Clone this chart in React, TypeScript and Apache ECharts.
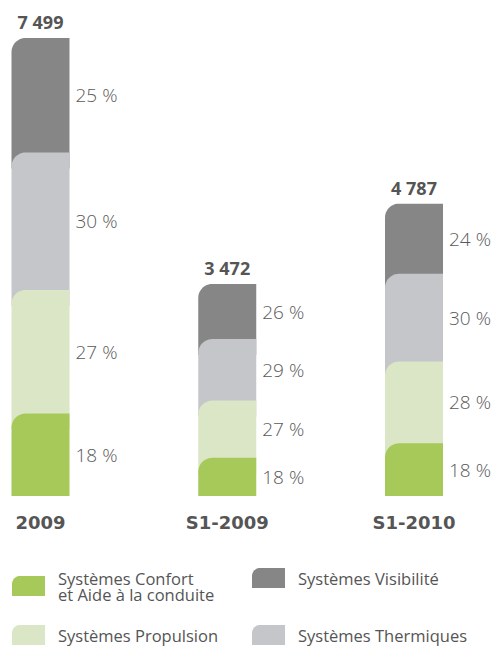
import React, { useEffect, useRef } from "react";
import * as echarts from "echarts";

const categories = ["2009", "S1-2009", "S1-2010"];
const totals = [7499, 3472, 4787];
const pctConfort = [18, 18, 18];
const pctPropulsion = [27, 27, 28];
const pctThermiques = [30, 29, 30];
const pctVisibilite = [25, 26, 24];

const seriesNames = [
  "Systèmes Confort",
  "Systèmes Propulsion",
  "Systèmes Thermiques",
  "Systèmes Visibilité",
];
const legendLabels = [
  "Systèmes Confort\net Aide à la conduite",
  "Systèmes Propulsion",
  "Systèmes Thermiques",
  "Systèmes Visibilité",
];
const colors = ["#a6c95a", "#dae6c5", "#c5c6ca", "#868687"];

const FONT = "'Open Sans', 'Noto Sans', sans-serif";
const BAR_W = 58;
const RADIUS = 14;
const OVERLAP = 16;

function leafPoints(x: number, y: number, w: number, h: number, r: number) {
  const pts: number[][] = [[x, y + r]];
  const steps = 12;
  for (let s = 1; s <= steps; s++) {
    const a = Math.PI + (Math.PI / 2) * (s / steps);
    pts.push([x + r + r * Math.cos(a), y + r + r * Math.sin(a)]);
  }
  pts.push([x + w, y], [x + w, y + h], [x, y + h]);
  return pts;
}

function leafIconPath(w: number, h: number, r: number) {
  const pts = leafPoints(0, 0, w, h, r);
  return (
    "path://M" +
    pts.map((p) => p[0].toFixed(2) + "," + p[1].toFixed(2)).join(" L") +
    " Z"
  );
}

export default function App() {
  const ref = useRef<HTMLDivElement>(null);
  useEffect(() => {
    if (!ref.current) return;
    const chart = echarts.init(ref.current, undefined, { renderer: "svg" });
    const pctStack = [pctConfort, pctPropulsion, pctThermiques, pctVisibilite];
    const series = pctStack.map((pcts, k) => {
      const data = categories.map((_, i) => {
        let cum = 0;
        for (let j = 0; j < k; j++) cum += pctStack[j][i];
        const base = (totals[i] * cum) / 100;
        const top = (totals[i] * (cum + pcts[i])) / 100;
        return [i, base, top, pcts[i], totals[i]];
      });
      return {
        type: "custom",
        name: seriesNames[k],
        z: 10 - k,
        itemStyle: { color: colors[k] },
        encode: { x: 0, y: 2 },
        data,
        renderItem: (params: any, api: any) => {
          const i = api.value(0);
          const base = api.value(1);
          const top = api.value(2);
          const pct = api.value(3);
          const total = api.value(4);
          const pTop = api.coord([i, top]);
          const pBase = api.coord([i, base]);
          const x = pTop[0] - BAR_W / 2;
          const ov = k > 0 ? OVERLAP : 0;
          const children: any[] = [
            {
              type: "polygon",
              shape: {
                points: leafPoints(x, pTop[1], BAR_W, pBase[1] - pTop[1] + ov, RADIUS),
              },
              style: { fill: api.visual("color") },
            },
            {
              type: "text",
              style: {
                text: pct + " %",
                x: x + BAR_W + 6,
                y: (pTop[1] + pBase[1]) / 2,
                fill: "#5a5a5a",
                fontSize: 19,
                fontFamily: FONT,
                fontWeight: 300,
                align: "left",
                verticalAlign: "middle",
              },
            },
          ];
          if (k === pctStack.length - 1) {
            children.push({
              type: "text",
              style: {
                text: String(total).replace(/\B(?=(\d{3})+(?!\d))/g, " "),
                x: pTop[0],
                y: pTop[1] - 16,
                fill: "#555555",
                fontSize: 18,
                fontFamily: FONT,
                fontWeight: "bold",
                align: "center",
                verticalAlign: "middle",
              },
            });
          }
          return { type: "group", children };
        },
      };
    });

    const legendPos = [
      { left: 12, top: 568, pad: [4, 0, 0, 8] },
      { left: 12, top: 625, pad: [0, 0, 0, 8] },
      { left: 252, top: 625, pad: [0, 0, 0, 8] },
      { left: 252, top: 568, pad: [0, 0, 0, 8] },
    ];
    const legend = seriesNames.map((name, k) => ({
      data: [name],
      left: legendPos[k].left,
      top: legendPos[k].top,
      padding: 0,
      itemWidth: 33,
      itemHeight: 20,
      selectedMode: false,
      icon: leafIconPath(33, 20, 8),
      formatter: () => legendLabels[k],
      textStyle: {
        color: "#555555",
        fontSize: 16.5,
        lineHeight: 16,
        fontFamily: FONT,
        padding: legendPos[k].pad,
      },
    }));

    const yMax = 8000;
    const gridBottom = 152;
    const pxPerUnit = 458 / 7499;
    const gridTop = 648 - gridBottom - yMax * pxPerUnit;

    chart.setOption({
      animation: false,
      backgroundColor: "#ffffff",
      grid: { left: 40.5, right: 81, top: gridTop, bottom: gridBottom },
      xAxis: {
        type: "category",
        data: categories,
        boundaryGap: false,
        axisLine: { show: false },
        axisTick: { show: false },
        splitLine: { show: false },
        axisLabel: {
          color: "#555555",
          fontSize: 18,
          fontWeight: "bold",
          fontFamily: "'DejaVu Sans', sans-serif",
          margin: 17,
        },
      },
      yAxis: {
        type: "value",
        min: 0,
        max: yMax,
        show: false,
        splitLine: { show: false },
      },
      legend,
      series,
    });
    return () => chart.dispose();
  }, []);
  return (
    <div
      ref={ref}
      style={{ position: "absolute", left: 0, top: 0, width: 495, height: 648 }}
    />
  );
}
